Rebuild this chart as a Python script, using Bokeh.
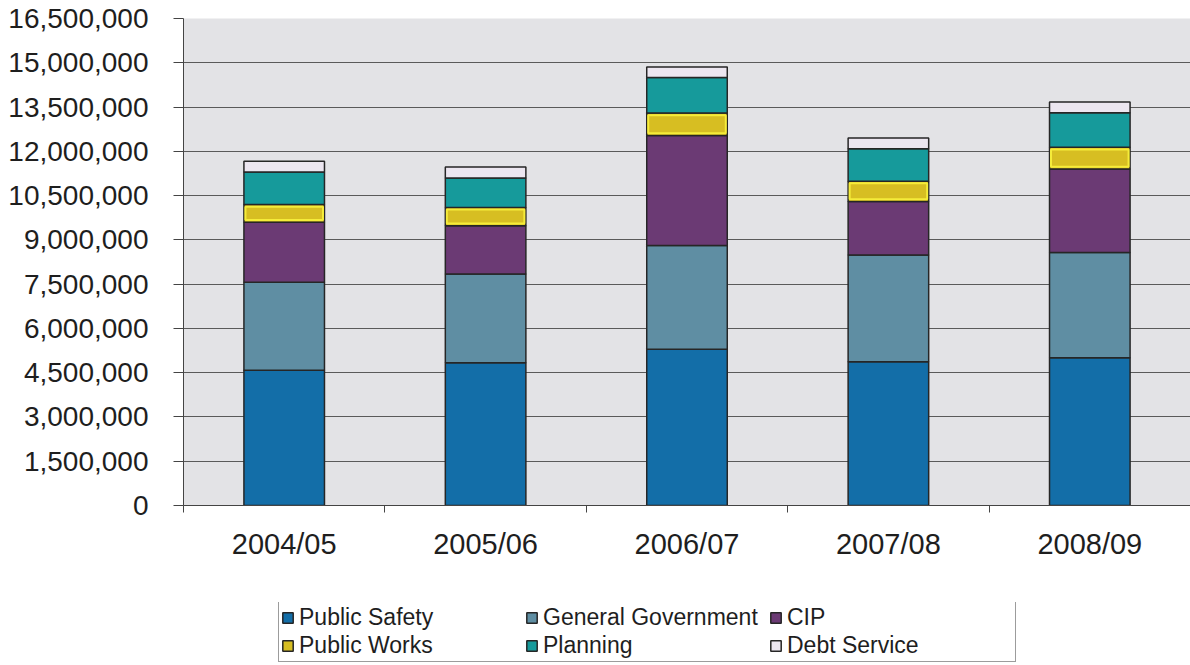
from bokeh.plotting import figure
from bokeh.layouts import column
from bokeh.models import (ColumnDataSource, FixedTicker, NumeralTickFormatter,
                          Legend, LegendItem)
from bokeh.embed import file_html
from bokeh.resources import INLINE

# ---- data ----
years = ["2004/05", "2005/06", "2006/07", "2007/08", "2008/09"]
public_safety = [4580000, 4840000, 5290000, 4870000, 5010000]
general_government = [2980000, 3000000, 3520000, 3620000, 3560000]
cip = [2040000, 1640000, 3730000, 1810000, 2830000]
public_works = [600000, 620000, 760000, 690000, 740000]
planning = [1100000, 1000000, 1200000, 1100000, 1170000]
debt_service = [360000, 370000, 360000, 360000, 360000]
y_ticks = [0, 1500000, 3000000, 4500000, 6000000, 7500000, 9000000,
           10500000, 12000000, 13500000, 15000000, 16500000]

series = ["Public Safety", "General Government", "CIP",
          "Public Works", "Planning", "Debt Service"]
keys = ["ps", "gg", "cip", "pw", "pl", "ds"]
colors = ["#136ea8", "#5f8ea3", "#6b3a74", "#d7be22", "#169a9b", "#ece6f0"]

idx = list(range(len(years)))
source = ColumnDataSource(dict(
    x=idx, ps=public_safety, gg=general_government, cip=cip,
    pw=public_works, pl=planning, ds=debt_service,
))

FONT = "Liberation Sans"
EDGE = "#262626"

# ---------------- main chart ----------------
p = figure(
    frame_width=1007, frame_height=487,
    x_range=(-0.5, len(years) - 0.5), y_range=(0, y_ticks[-1]),
    output_backend="svg", toolbar_location=None,
    min_border_left=183, min_border_right=0, min_border_top=18,
    min_border_bottom=60,
)
p.background_fill_color = "#e3e3e6"
p.border_fill_color = "white"
p.outline_line_color = None

p.vbar_stack(keys, x="x", width=0.4, source=source, color=colors,
             line_color=EDGE, line_width=1.5)

# bright inner outline of the Public Works segment
pw_bottom = [a + b + c for a, b, c in zip(public_safety, general_government, cip)]
pw_top = [b + w for b, w in zip(pw_bottom, public_works)]
inset = 75000
p.vbar(x=idx, width=0.385, bottom=[b + inset for b in pw_bottom],
       top=[t - inset for t in pw_top], fill_alpha=0,
       line_color="#f5ec3a", line_width=2)

# y axis
p.yaxis.ticker = FixedTicker(ticks=y_ticks)
p.yaxis.formatter = NumeralTickFormatter(format="0,0")
p.yaxis.major_label_text_font = FONT
p.yaxis.major_label_text_font_size = "28px"
p.yaxis.major_label_text_color = "#1e1e1e"
p.yaxis.major_tick_out = 10
p.yaxis.major_tick_in = 0
p.yaxis.minor_tick_line_color = None
p.yaxis.major_label_standoff = 25
p.yaxis.axis_line_color = "#444444"
p.yaxis.major_tick_line_color = "#444444"

# x axis: labels at bar centres, tick marks between categories
p.xaxis.ticker = FixedTicker(ticks=idx,
                             minor_ticks=[i - 0.5 for i in range(len(years) + 1)])
p.xaxis.major_label_overrides = {i: y for i, y in zip(idx, years)}
p.xaxis.major_label_text_font = FONT
p.xaxis.major_label_text_font_size = "29px"
p.xaxis.major_label_text_color = "#1e1e1e"
p.xaxis.major_tick_line_color = None
p.xaxis.minor_tick_out = 7
p.xaxis.minor_tick_in = 0
p.xaxis.minor_tick_line_color = "#444444"
p.xaxis.major_label_standoff = 15
p.xaxis.axis_line_color = "#444444"

p.xgrid.grid_line_color = None
p.ygrid.grid_line_color = "#5a5a5a"
p.ygrid.grid_line_width = 1.2

# ---------------- legend strip below the chart ----------------
lg = figure(
    frame_width=1007, frame_height=62,
    x_range=(-0.5, len(years) - 0.5), y_range=(0, y_ticks[-1]),
    x_axis_type=None, y_axis_type=None,
    output_backend="svg", toolbar_location=None,
    min_border_left=183, min_border_right=0, min_border_top=37,
    min_border_bottom=1,
)
lg.background_fill_color = "white"
lg.border_fill_color = "white"
lg.outline_line_color = None

legend_rs = lg.vbar_stack(keys, x="x", width=0.4, source=source, color=colors,
                          line_color=EDGE, line_width=1.5)
for r in legend_rs:
    r.visible = False

leg = Legend(
    items=[LegendItem(label=s, renderers=[r]) for s, r in zip(series, legend_rs)],
    orientation="horizontal", ncols=3, location=(95, 2),
    margin=0, padding=2, spacing=0,
    glyph_width=13, glyph_height=13, label_standoff=5,
    label_width=226, label_height=28,
    label_text_font=FONT, label_text_font_size="23px",
    label_text_color="#1e1e1e",
    border_line_color="#3a3a3a", border_line_width=1.3,
    background_fill_color="white", background_fill_alpha=1,
    inactive_fill_alpha=0,
)
lg.add_layout(leg)

layout = column(p, lg, spacing=0)
open("out.html", "w").write(file_html(layout, INLINE))
